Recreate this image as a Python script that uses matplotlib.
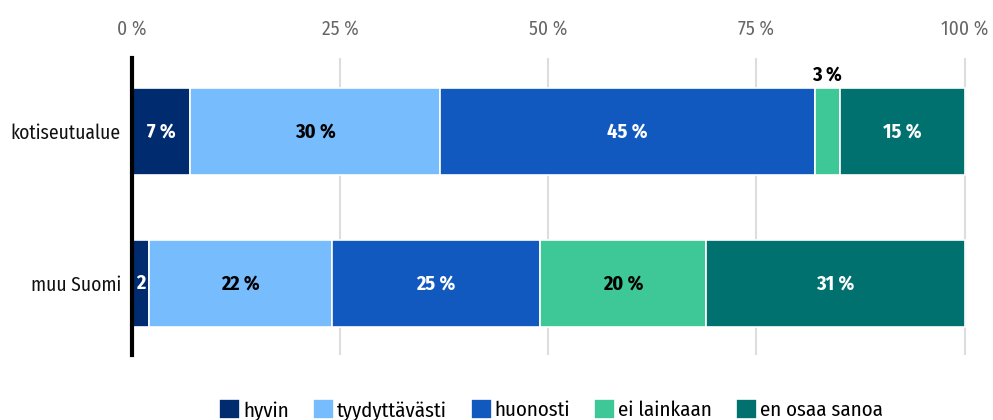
import matplotlib.pyplot as plt
import numpy as np

categories = ["kotiseutualue", "muu Suomi"]
series = ["hyvin", "tyydyttävästi", "huonosti", "ei lainkaan", "en osaa sanoa"]
values = [
    [7, 2],
    [30, 22],
    [45, 25],
    [3, 20],
    [15, 31],
]
colors = ["#002b6e", "#77bcfd", "#1259bf", "#3ec797", "#00716e"]
label_colors = ["white", "black", "white", "black", "white"]
ticks = [0, 25, 50, 75, 100]

plt.rcParams['font.family'] = ['Fira Sans Condensed', 'Barlow Semi Condensed', 'DejaVu Sans']

fig = plt.figure(figsize=(9.93, 4.2), dpi=100)
ax = fig.add_axes([132 / 993, 1 - 355 / 420, (967 - 132) / 993, (355 - 58) / 420])

y = np.arange(len(categories))
left = np.zeros(len(categories))
for i, name in enumerate(series):
    vals = np.array(values[i], dtype=float)
    ax.barh(y, vals, left=left, height=0.572, color=colors[i], edgecolor="white",
            linewidth=1.2, label=name, zorder=3)
    for j, v in enumerate(vals):
        cx = left[j] + v / 2
        if v < 2.5:
            ax.text(cx, y[j], "%d" % v, ha="center", va="center", color=label_colors[i],
                    fontsize=14.5, fontweight="bold", zorder=4)
        elif v < 5:
            # small segment: label sits above the bar
            ax.text(cx, y[j] - 0.286 - 0.02, "%d %%" % v, ha="center", va="bottom",
                    color="black", fontsize=14.5, fontweight="bold", zorder=4)
        else:
            ax.text(cx, y[j], "%d %%" % v, ha="center", va="center", color=label_colors[i],
                    fontsize=14.5, fontweight="bold", zorder=4)
    left += vals

ax.set_xlim(0, 100.3)
ax.set_ylim(1.47, -0.484)
ax.set_yticks(y)
ax.set_yticklabels(categories, fontsize=14, color="#111111")
ax.set_xticks(ticks)
ax.set_xticklabels(["%d %%" % t for t in ticks], fontsize=14, color="#666666")
ax.xaxis.tick_top()
ax.tick_params(axis="both", length=0)
ax.tick_params(axis="x", pad=14)
ax.tick_params(axis="y", pad=8)
for s in ["top", "right", "bottom"]:
    ax.spines[s].set_visible(False)
ax.spines["left"].set_linewidth(3)
ax.spines["left"].set_color("black")
ax.spines["left"].set_zorder(5)
ax.grid(axis="x", color="#dddddd", linewidth=1.5, zorder=0)
ax.set_axisbelow(True)

fig.legend(loc="lower center", bbox_to_anchor=(0.555, -0.046), ncol=5, frameon=False,
           fontsize=15, handlelength=1.0, handleheight=1.1, handletextpad=0.15,
           columnspacing=1.15)

fig.savefig("out.png", dpi=100)
